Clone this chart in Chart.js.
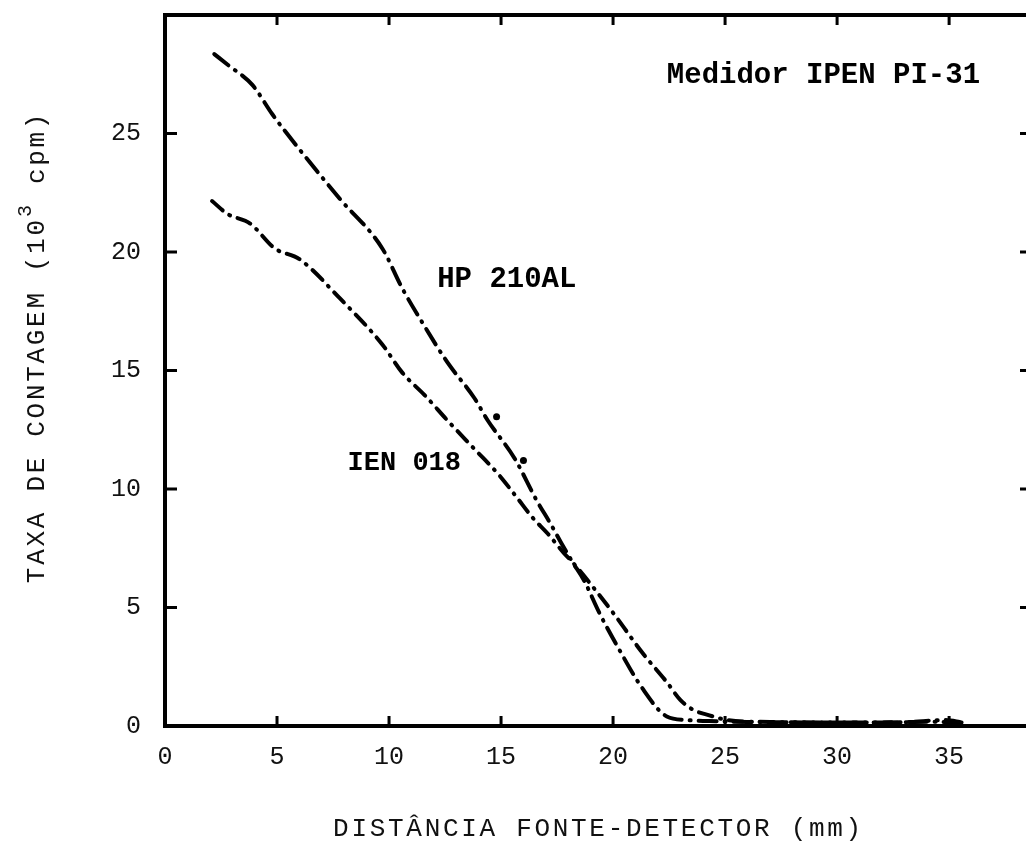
<!DOCTYPE html>
<html>
<head>
<meta charset="utf-8">
<script src="https://cdn.jsdelivr.net/npm/chart.js@4.4.1/dist/chart.umd.min.js"></script>
<style>
  html, body { margin: 0; padding: 0; background: #fff; overflow: hidden; }
  #wrap { width: 1040px; height: 852px; }
</style>
</head>
<body>
<div id="wrap"><canvas id="chart" width="1040" height="852"></canvas></div>
<script>
// count rate (10^3 cpm) vs source-detector distance (mm)
const hpX = [2.2, 2.8, 3.9, 4.8, 5.9, 7.8, 9.7, 10.6, 11.5, 12.6, 13.8, 14.4, 15.6, 16.6, 17.2, 17.7, 18.2, 18.7, 19.4, 20.2, 21.3, 22.4, 23.3, 24.6, 26.0, 28.0, 30.0, 32.0, 34.0, 35.6];
const hpY = [28.35, 27.9, 27.05, 25.8, 24.45, 22.25, 20.15, 18.45, 17.0, 15.35, 13.85, 12.9, 11.3, 9.5, 8.55, 7.7, 6.9, 6.15, 4.75, 3.35, 1.6, 0.4, 0.25, 0.2, 0.17, 0.16, 0.15, 0.15, 0.18, 0.15];

const ienX = [2.1, 2.8, 3.8, 4.9, 6.0, 7.8, 9.7, 10.6, 11.6, 12.6, 13.8, 14.9, 15.7, 16.4, 17.1, 17.8, 18.2, 19.2, 20.1, 21.3, 22.4, 23.0, 23.6, 24.3, 25.1, 27.0, 29.0, 31.0, 33.0, 34.8, 35.6];
const ienY = [22.15, 21.6, 21.2, 20.15, 19.7, 18.05, 16.1, 14.9, 13.95, 12.9, 11.7, 10.6, 9.65, 8.8, 8.1, 7.3, 6.9, 5.75, 4.65, 3.1, 1.85, 1.1, 0.67, 0.45, 0.25, 0.17, 0.15, 0.15, 0.16, 0.25, 0.15];

// loose measured points next to the HP curve
const hpMarkX = [14.8, 16.0];
const hpMarkY = [13.05, 11.2];

const xTickLabels = [0, 5, 10, 15, 20, 25, 30, 35];
const yTickLabels = [0, 5, 10, 15, 20, 25];

const toPoints = (xs, ys) => xs.map((x, i) => ({ x, y: ys[i] }));

const notes = [
  { text: 'Medidor IPEN PI-31', x: 22.4, y: 27.45, size: 29 },
  { text: 'HP 210AL', x: 12.15, y: 18.85, size: 29 },
  { text: 'IEN 018', x: 8.15, y: 11.1, size: 27 }
];

const monoFont = '"Liberation Mono", "DejaVu Sans Mono", monospace';

const framePlugin = {
  id: 'frame',
  beforeDatasetsDraw(chart) {
    const { ctx, chartArea: a, scales: { x, y } } = chart;
    ctx.save();
    ctx.strokeStyle = '#000';
    ctx.lineWidth = 4;
    ctx.strokeRect(a.left, a.top, a.right - a.left, a.bottom - a.top);
    ctx.lineWidth = 3;
    ctx.beginPath();
    x.ticks.forEach(t => {
      if (t.value <= x.min || t.value >= x.max) return;
      const px = x.getPixelForValue(t.value);
      ctx.moveTo(px, a.bottom); ctx.lineTo(px, a.bottom - 10);
      ctx.moveTo(px, a.top); ctx.lineTo(px, a.top + 10);
    });
    y.ticks.forEach(t => {
      if (t.value <= y.min || t.value >= y.max) return;
      const py = y.getPixelForValue(t.value);
      ctx.moveTo(a.left, py); ctx.lineTo(a.left + 12, py);
      ctx.moveTo(a.right, py); ctx.lineTo(a.right - 12, py);
    });
    ctx.stroke();
    ctx.restore();
  },
  afterDraw(chart) {
    const { ctx, chartArea: a, scales: { x, y } } = chart;
    ctx.save();
    ctx.fillStyle = '#000';
    ctx.textAlign = 'left';
    ctx.textBaseline = 'middle';
    notes.forEach(n => {
      ctx.font = `bold ${n.size}px ${monoFont}`;
      ctx.fillText(n.text, x.getPixelForValue(n.x), y.getPixelForValue(n.y));
    });

    // x axis title
    ctx.fillStyle = '#111';
    ctx.font = `26px ${monoFont}`;
    ctx.letterSpacing = '2.7px';
    ctx.textAlign = 'center';
    ctx.fillText('DISTÂNCIA FONTE-DETECTOR (mm)', (a.left + a.right) / 2, 829);

    // y axis title with superscript exponent
    ctx.translate(37, 347);
    ctx.rotate(-Math.PI / 2);
    ctx.textAlign = 'left';
    const parts = [
      { t: 'TAXA DE CONTAGEM (10', size: 26, dy: 0 },
      { t: '3', size: 20, dy: -11 },
      { t: ' cpm)', size: 26, dy: 0 }
    ];
    let total = 0;
    parts.forEach(p => {
      ctx.font = `${p.size}px ${monoFont}`;
      p.w = ctx.measureText(p.t).width;
      total += p.w;
    });
    let cx = -total / 2;
    parts.forEach(p => {
      ctx.font = `${p.size}px ${monoFont}`;
      ctx.fillText(p.t, cx, p.dy);
      cx += p.w;
    });
    ctx.restore();
  }
};

new Chart(document.getElementById('chart'), {
  type: 'scatter',
  data: {
    datasets: [
      {
        label: 'HP 210AL',
        data: toPoints(hpX, hpY),
        showLine: true,
        borderColor: '#000',
        borderWidth: 4,
        borderDash: [18, 8, 1, 8],
        borderCapStyle: 'round',
        cubicInterpolationMode: 'monotone',
        pointRadius: 0,
        fill: false
      },
      {
        label: 'IEN 018',
        data: toPoints(ienX, ienY),
        showLine: true,
        borderColor: '#000',
        borderWidth: 4,
        borderDash: [14, 8, 1, 8],
        borderCapStyle: 'round',
        cubicInterpolationMode: 'monotone',
        pointRadius: 0,
        fill: false
      },
      {
        label: 'HP 210AL pontos',
        data: toPoints(hpMarkX, hpMarkY),
        showLine: false,
        pointRadius: 3.5,
        pointBorderWidth: 0,
        pointBackgroundColor: '#000'
      }
    ]
  },
  options: {
    responsive: false,
    animation: false,
    devicePixelRatio: 1,
    layout: { padding: { left: 105, right: 8, top: 14, bottom: 56 } },
    plugins: { legend: { display: false }, tooltip: { enabled: false } },
    scales: {
      x: {
        type: 'linear',
        min: 0,
        max: 38.7,
        afterFit(s) { s.height = 70; },
        // tick marks are drawn inward by the frame plugin; tickLength only spaces the labels
        grid: { display: false, drawTicks: true, tickLength: 16 },
        border: { display: false },
        ticks: {
          stepSize: 5,
          includeBounds: false,
          autoSkip: false,
          maxRotation: 0,
          padding: 0,
          color: '#111',
          font: { family: monoFont, size: 25 },
          callback: v => (xTickLabels.includes(v) ? String(v) : '')
        }
      },
      y: {
        type: 'linear',
        min: 0,
        max: 30,
        afterFit(s) { s.width = 60; },
        grid: { display: false, drawTicks: true, tickLength: 24 },
        border: { display: false },
        ticks: {
          stepSize: 5,
          padding: 0,
          color: '#111',
          font: { family: monoFont, size: 25 },
          callback: v => (yTickLabels.includes(v) ? String(v) : '')
        }
      }
    }
  },
  plugins: [framePlugin]
});
</script>
</body>
</html>
